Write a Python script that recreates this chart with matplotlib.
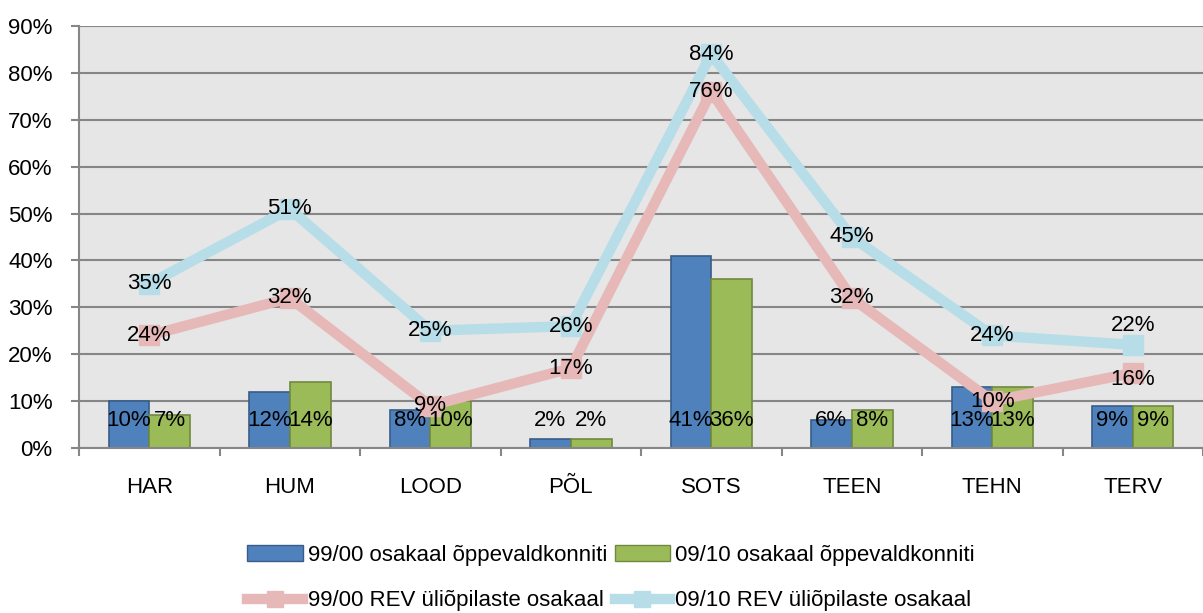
import matplotlib.pyplot as plt
from matplotlib.lines import Line2D
from matplotlib.patches import Patch
import numpy as np

categories = ["HAR", "HUM", "LOOD", "PÕL", "SOTS", "TEEN", "TEHN", "TERV"]
bar_9900 = [10, 12, 8, 2, 41, 6, 13, 9]
bar_0910 = [7, 14, 10, 2, 36, 8, 13, 9]
rev_9900 = [24, 32, 9, 17, 76, 32, 10, 16]
rev_0910 = [35, 51, 25, 26, 84, 45, 24, 22]

names = ["99/00 osakaal õppevaldkonniti", "09/10 osakaal õppevaldkonniti",
         "99/00 REV üliõpilaste osakaal", "09/10 REV üliõpilaste osakaal"]

plt.rcParams['font.family'] = ["Liberation Sans", "DejaVu Sans"]
fs = 16

blue, blue_e = "#4F81BD", "#385D8A"
green, green_e = "#9BBB59", "#71893F"
pink = "#E6B9B8"
lblue = "#B7DEE8"
gray = "#868686"

fig = plt.figure(figsize=(12.03, 6.13), dpi=100)
ax = fig.add_axes([0.0657, 0.2692, 0.9343, 0.6884])
ax.set_facecolor("#E6E6E6")

x = np.arange(len(categories))
w = 0.29
ax.bar(x - w/2, bar_9900, w, color=blue, edgecolor=blue_e, linewidth=1.2, zorder=2)
ax.bar(x + w/2, bar_0910, w, color=green, edgecolor=green_e, linewidth=1.2, zorder=2)

ax.plot(x, rev_9900, color=pink, lw=7.5, marker="s", ms=15, zorder=3)
ax.plot(x, rev_0910, color=lblue, lw=7.5, marker="s", ms=15, zorder=3)

# bar labels sit near the base
for i in range(len(categories)):
    ax.annotate(f"{bar_9900[i]}%", (x[i] - w/2, 0), xytext=(0, 27),
                textcoords="offset pixels", ha="center", va="center", fontsize=fs, zorder=5)
    ax.annotate(f"{bar_0910[i]}%", (x[i] + w/2, 0), xytext=(0, 27),
                textcoords="offset pixels", ha="center", va="center", fontsize=fs, zorder=5)

# line labels on the points (TERV pushed apart like Excel did)
nudge_pink = {7: -7}
nudge_blue = {7: 19}
for i in range(len(categories)):
    ax.annotate(f"{rev_9900[i]}%", (x[i], rev_9900[i]), xytext=(0, nudge_pink.get(i, 0)),
                textcoords="offset pixels", ha="center", va="center", fontsize=fs, zorder=5)
    ax.annotate(f"{rev_0910[i]}%", (x[i], rev_0910[i]), xytext=(0, nudge_blue.get(i, 0)),
                textcoords="offset pixels", ha="center", va="center", fontsize=fs, zorder=5)

ax.set_xlim(-0.5, len(categories) - 0.5)
ax.set_ylim(0, 90)
ax.set_yticks(range(0, 91, 10))
ax.set_yticklabels([f"{v}%" for v in range(0, 91, 10)], fontsize=fs)
ax.yaxis.grid(True, color=gray, lw=1.5, zorder=1)
ax.set_axisbelow(True)

ax.set_xticks(x)
ax.set_xticklabels(categories, fontsize=fs)
ax.tick_params(axis="x", length=0, pad=21)
ax.set_xticks(np.arange(-0.5, len(categories)), minor=True)
ax.tick_params(axis="x", which="minor", length=6, width=1.5, color=gray)
ax.tick_params(axis="y", length=6, width=1.5, color=gray, pad=13)

for s in ["top", "right"]:
    ax.spines[s].set_visible(False)
for s in ["left", "bottom"]:
    ax.spines[s].set_color(gray)
    ax.spines[s].set_linewidth(1.5)

handles = [
    Patch(facecolor=blue, edgecolor=blue_e),
    Line2D([], [], color=pink, lw=7.5, marker="s", ms=11),
    Patch(facecolor=green, edgecolor=green_e),
    Line2D([], [], color=lblue, lw=7.5, marker="s", ms=11),
]
labels = [names[0], names[2], names[1], names[3]]
fig.legend(handles, labels, loc="center", bbox_to_anchor=(0.508, 0.057), ncol=2,
           frameon=False, fontsize=fs, handlelength=2.5, handleheight=0.7,
           handletextpad=0.23, columnspacing=0.32, labelspacing=1.1)

fig.savefig("out.png", dpi=100)
